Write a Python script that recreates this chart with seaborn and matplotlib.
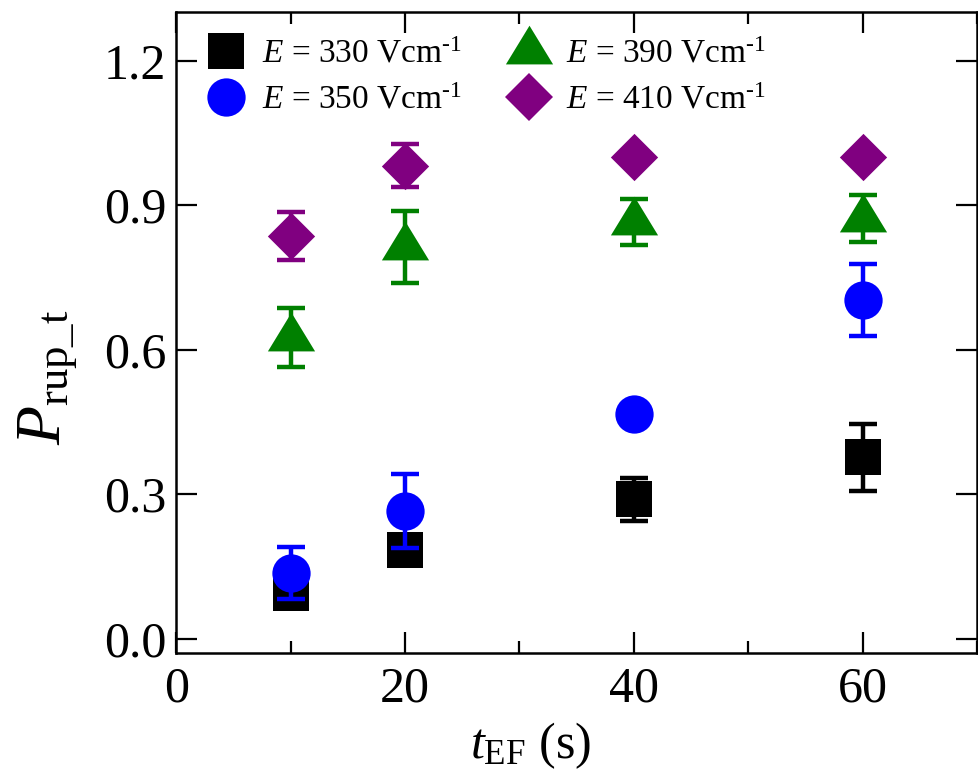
import numpy as np
import pandas as pd
import matplotlib
matplotlib.use("Agg")
import matplotlib.pyplot as plt
import seaborn as sns
from matplotlib.lines import Line2D
from matplotlib.ticker import MultipleLocator

# ---- data ----
t_ef = [10, 20, 40, 60]
fields = ["330", "350", "390", "410"]
p_330 = [0.095, 0.184, 0.289, 0.376]
err_330 = [0.02, 0.02, 0.044, 0.069]
p_350 = [0.137, 0.265, 0.466, 0.703]
err_350 = [0.054, 0.076, 0.0, 0.074]
p_390 = [0.625, 0.813, 0.865, 0.872]
err_390 = [0.062, 0.074, 0.048, 0.048]
p_410 = [0.836, 0.982, 1.0, 1.0]
err_410 = [0.05, 0.045, 0.0, 0.0]

values = {"330": p_330, "350": p_350, "390": p_390, "410": p_410}
errors = {"330": err_330, "350": err_350, "390": err_390, "410": err_410}

rows = []
for f in fields:
    for t, p, e in zip(t_ef, values[f], errors[f]):
        rows.append({"t": t, "P": p, "err": e, "E": f})
df = pd.DataFrame(rows)

# ---- style ----
sns.set_theme(style="ticks")
plt.rcParams["font.family"] = ["Liberation Serif", "DejaVu Serif"]
plt.rcParams["mathtext.fontset"] = "custom"
plt.rcParams["mathtext.rm"] = "Liberation Serif"
plt.rcParams["mathtext.it"] = "Liberation Serif:italic"
plt.rcParams["mathtext.bf"] = "Liberation Serif:bold"
plt.rcParams["text.color"] = "black"
plt.rcParams["axes.labelcolor"] = "black"

colors = {"330": "#000000", "350": "#0000ff", "390": "#008000", "410": "#800080"}
tri = [(-1.0, -0.547), (1.0, -0.547), (0.0, 1.093), (-1.0, -0.547)]
markers = {"330": "s", "350": "o", "390": tri, "410": "D"}
msizes = {"330": 640, "350": 760, "390": 1380, "410": 580}

fig = plt.figure(figsize=(9.79, 7.71), dpi=100)
ax = fig.add_axes([0.180, 0.153, 0.818, 0.831])

for i, f in enumerate(fields):
    sub = df[df["E"] == f]
    ax.errorbar(sub["t"], sub["P"], yerr=sub["err"], fmt="none",
                ecolor=colors[f], elinewidth=3.2, capsize=10, capthick=3.2,
                zorder=3 + 2 * i)
    sns.scatterplot(data=sub, x="t", y="P", marker=markers[f], s=msizes[f],
                    color=colors[f], edgecolor=colors[f], linewidth=0,
                    legend=False, ax=ax, zorder=4 + 2 * i)

ax.set_xlim(0, 70)
ax.set_ylim(-0.03, 1.3)
ax.xaxis.set_major_locator(MultipleLocator(20))
ax.xaxis.set_minor_locator(MultipleLocator(10))
ax.yaxis.set_major_locator(MultipleLocator(0.3))
ax.yaxis.set_major_formatter(matplotlib.ticker.FormatStrFormatter("%.1f"))
ax.tick_params(which="both", direction="in", top=True, right=True,
               labelsize=36, width=1.6, color="black", labelcolor="black")
ax.tick_params(which="major", length=15)
ax.tick_params(axis="x", which="major", pad=9)
ax.tick_params(axis="y", which="major", pad=7)
ax.tick_params(which="minor", length=8.5)
for sp in ax.spines.values():
    sp.set_linewidth(1.8)
    sp.set_color("black")

ax.set_xlabel(r"$t_{\mathrm{EF}}$ (s)", fontsize=36)
ax.set_ylabel(r"$P_{\mathrm{rup\_t}}$", fontsize=46)
ax.xaxis.set_label_coords(0.442, -0.105)
ax.yaxis.set_label_coords(-0.122, 0.43)

handles = []
for f in fields:
    m = markers[f]
    handles.append(Line2D([], [], linestyle="none", marker=m,
                          markersize=np.sqrt(msizes[f]),
                          markerfacecolor=colors[f], markeredgewidth=0,
                          label=r"$E$ = " + f + r" Vcm$^{\text{-1}}$"))
leg = ax.legend(handles=handles, ncol=2, loc="upper left",
                bbox_to_anchor=(-0.013, 1.0), frameon=False, fontsize=24,
                handletextpad=0.1, columnspacing=1.0, labelspacing=0.45,
                borderaxespad=0.4)

fig.savefig("out.png", dpi=100)
